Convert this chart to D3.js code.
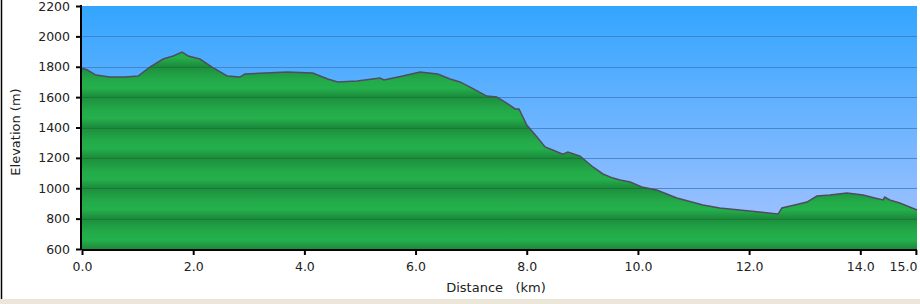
<!DOCTYPE html>
<html>
<head>
<meta charset="utf-8">
<script src="https://cdn.jsdelivr.net/npm/d3@7"></script>
<style>
  html, body { margin: 0; padding: 0; background: #fff; }
  svg { display: block; font-family: "DejaVu Sans", Verdana, sans-serif; }
</style>
</head>
<body>
<div id="chart"></div>
<script>
// profile: distance (km) and elevation (m)
const distKm = [0.00, 0.09, 0.25, 0.50, 0.77, 1.01, 1.22, 1.46, 1.64, 1.80, 1.91, 2.12, 2.34, 2.61, 2.84, 2.93,
  3.29, 3.69, 4.15, 4.42, 4.60, 4.95, 5.36, 5.43, 5.77, 6.08, 6.40, 6.62, 6.80, 7.05, 7.28, 7.46, 7.64, 7.79,
  7.86, 8.00, 8.17, 8.33, 8.51, 8.65, 8.74, 8.96, 9.19, 9.37, 9.55, 9.68, 9.86, 10.07, 10.34, 10.70, 11.17,
  11.47, 11.83, 12.19, 12.52, 12.59, 12.82, 13.04, 13.22, 13.45, 13.76, 14.05, 14.26, 14.41, 14.44, 14.53,
  14.71, 15.02];
const elevM = [1790, 1780, 1745, 1732, 1732, 1739, 1798, 1851, 1871, 1897, 1871, 1851, 1798, 1739, 1732, 1752,
  1759, 1765, 1759, 1719, 1700, 1706, 1726, 1713, 1739, 1765, 1752, 1719, 1700, 1653, 1607, 1601, 1561, 1522,
  1522, 1416, 1344, 1272, 1245, 1225, 1239, 1212, 1140, 1094, 1067, 1054, 1041, 1008, 988, 936, 890,
  870, 857, 844, 830, 870, 890, 909, 949, 956, 969, 956, 936, 923, 942, 923,
  903, 857];
const yTicks = [600, 800, 1000, 1200, 1400, 1600, 1800, 2000, 2200];
const xTicks = [0, 2, 4, 6, 8, 10, 12, 14, 15];

const W = 920, H = 304;
const svg = d3.select('#chart').append('svg').attr('width', W).attr('height', H);

const x = d3.scaleLinear().domain([0, 15.02]).range([82, 917]);
const y = d3.scaleLinear().domain([600, 2200]).range([249, 6]);

const data = distKm.map((d, i) => ({ d, e: elevM[i] }));

// frame
svg.append('rect').attr('x', 0).attr('y', 299).attr('width', W).attr('height', 5).attr('fill', '#ece6d8');
svg.append('line').attr('x1', 1.5).attr('x2', 1.5).attr('y1', 0).attr('y2', 299)
  .attr('stroke', '#000').attr('stroke-width', 1.5);

// gradients
const defs = svg.append('defs');
const sky = defs.append('linearGradient').attr('id', 'sky')
  .attr('gradientUnits', 'userSpaceOnUse').attr('x1', 0).attr('x2', 0).attr('y1', y(2200)).attr('y2', y(600));
sky.append('stop').attr('offset', '0%').attr('stop-color', '#33a5ff');
sky.append('stop').attr('offset', '100%').attr('stop-color', '#aac4ff');

const band = defs.append('linearGradient').attr('id', 'band')
  .attr('gradientUnits', 'userSpaceOnUse').attr('spreadMethod', 'repeat')
  .attr('x1', 0).attr('x2', 0).attr('y1', y(2200)).attr('y2', y(2000));
band.append('stop').attr('offset', '0%').attr('stop-color', '#1d8e3e');
band.append('stop').attr('offset', '45%').attr('stop-color', '#23ab49');
band.append('stop').attr('offset', '70%').attr('stop-color', '#24b04c');
band.append('stop').attr('offset', '100%').attr('stop-color', '#1c8a3c');

// plot background
svg.append('rect').attr('x', x(0)).attr('y', y(2200))
  .attr('width', x(15.02) - x(0)).attr('height', y(600) - y(2200)).attr('fill', 'url(#sky)');

// grid over sky
svg.append('g').selectAll('line').data(yTicks.slice(1, -1)).join('line')
  .attr('x1', x(0)).attr('x2', x(15.02))
  .attr('y1', d => Math.round(y(d)) + 0.5).attr('y2', d => Math.round(y(d)) + 0.5)
  .attr('stroke', '#3a7cc0').attr('stroke-opacity', 0.8);

// terrain
const area = d3.area().x(d => x(d.d)).y0(y(600)).y1(d => y(d.e));
const line = d3.line().x(d => x(d.d)).y(d => y(d.e));

svg.append('clipPath').attr('id', 'terrainClip').append('path').datum(data).attr('d', area);
svg.append('path').datum(data).attr('d', area).attr('fill', 'url(#band)');

// grid inside terrain
svg.append('g').attr('clip-path', 'url(#terrainClip)').selectAll('line').data(yTicks.slice(1, -1)).join('line')
  .attr('x1', x(0)).attr('x2', x(15.02))
  .attr('y1', d => Math.round(y(d)) + 0.5).attr('y2', d => Math.round(y(d)) + 0.5)
  .attr('stroke', '#177a33').attr('stroke-width', 1.2);

svg.append('path').datum(data).attr('d', line)
  .attr('fill', 'none').attr('stroke', '#4e4e60').attr('stroke-width', 1.5);

// axes
const yAxis = svg.append('g').attr('transform', 'translate(81,0)')
  .call(d3.axisLeft(y).tickValues(yTicks).tickFormat(d3.format('d')).tickSize(5).tickSizeOuter(0).tickPadding(6));
const xAxis = svg.append('g').attr('transform', 'translate(0,250)')
  .call(d3.axisBottom(x).tickValues(xTicks).tickFormat(d3.format('.1f')).tickSize(5).tickSizeOuter(0).tickPadding(7));

[yAxis, xAxis].forEach(g => {
  g.select('.domain').attr('stroke', '#000').attr('stroke-width', 2);
  g.selectAll('.tick line').attr('stroke', '#000').attr('stroke-width', 2);
  g.selectAll('text').attr('fill', '#222').attr('font-size', '12.5px')
    .attr('font-family', '"DejaVu Sans", Verdana, sans-serif');
});
xAxis.select('.domain').attr('d', `M${x(0)},0H${x(15.02)}`);
yAxis.select('.domain').attr('d', `M0,${y(2200) - 1}V${y(600) + 1}`);
xAxis.selectAll('.tick').filter(d => d === 15).select('text').attr('text-anchor', 'end').attr('dx', 1);

// axis titles
svg.append('text').attr('x', 496).attr('y', 292).attr('text-anchor', 'middle')
  .attr('font-size', '13px').attr('fill', '#222').attr('xml:space', 'preserve').text('Distance   (km)');
svg.append('text').attr('transform', 'translate(20,132) rotate(-90)').attr('text-anchor', 'middle')
  .attr('font-size', '13px').attr('fill', '#222').text('Elevation (m)');
</script>
</body>
</html>
